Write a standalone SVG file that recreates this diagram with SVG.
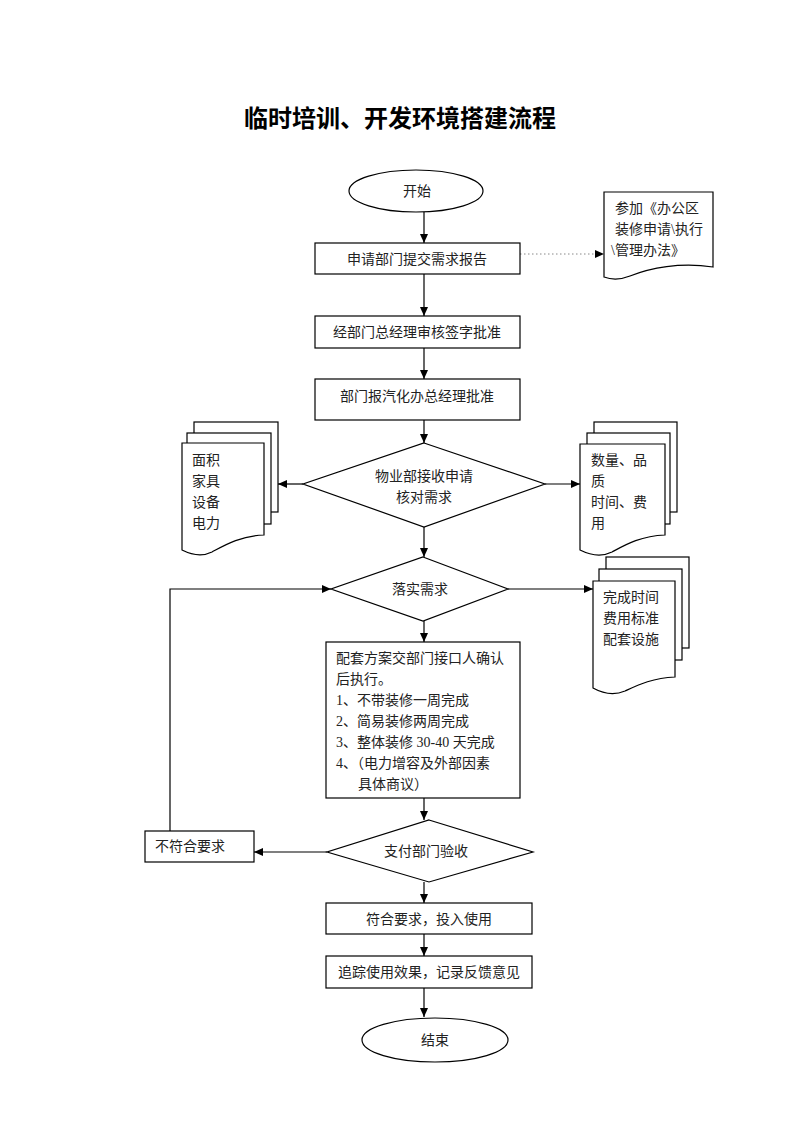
<svg xmlns="http://www.w3.org/2000/svg" width="800" height="1132" viewBox="0 0 800 1132">
<defs>
<marker id="ah" markerWidth="10" markerHeight="8" refX="9" refY="4" orient="auto" markerUnits="userSpaceOnUse">
<path d="M0,0 L9,4 L0,8 Z" fill="#000"/>
</marker>
<style>
.s{fill:#fff;stroke:#000;stroke-width:1.2}
.c{fill:none;stroke:#000;stroke-width:1.2}
.d{fill:none;stroke:#888;stroke-width:1;stroke-dasharray:1.5,2.5}
text{font-family:"Liberation Serif","Noto Sans CJK SC",serif;font-size:14px;fill:#222}
.m{text-anchor:middle;dominant-baseline:central}
.t{font-family:"Noto Sans CJK SC",sans-serif;font-size:24px;font-weight:700;fill:#000;text-anchor:middle}
</style>
</defs>
<rect width="800" height="1132" fill="#fff"/>
<text class="t" x="400" y="127">临时培训、开发环境搭建流程</text>

<g id="connectors">
<line class="c" x1="424" y1="212" x2="424" y2="243" marker-end="url(#ah)"/>
<line class="d" x1="520" y1="254" x2="604" y2="254" marker-end="url(#ah)"/>
<line class="c" x1="424" y1="274" x2="424" y2="316" marker-end="url(#ah)"/>
<line class="c" x1="424" y1="348" x2="424" y2="379" marker-end="url(#ah)"/>
<line class="c" x1="424" y1="420" x2="424" y2="443" marker-end="url(#ah)"/>
<line class="c" x1="303" y1="484" x2="278" y2="484" marker-end="url(#ah)"/>
<line class="c" x1="545" y1="484" x2="580" y2="484" marker-end="url(#ah)"/>
<line class="c" x1="424" y1="527" x2="424" y2="557" marker-end="url(#ah)"/>
<line class="c" x1="508" y1="589" x2="593" y2="589" marker-end="url(#ah)"/>
<line class="c" x1="424" y1="621" x2="424" y2="642" marker-end="url(#ah)"/>
<line class="c" x1="424" y1="798" x2="424" y2="820" marker-end="url(#ah)"/>
<line class="c" x1="327" y1="852" x2="254" y2="852" marker-end="url(#ah)"/>
<polyline class="c" points="170,831 170,589 331,589" marker-end="url(#ah)"/>
<line class="c" x1="424" y1="882" x2="424" y2="903" marker-end="url(#ah)"/>
<line class="c" x1="424" y1="934" x2="424" y2="956" marker-end="url(#ah)"/>
<line class="c" x1="424" y1="988" x2="424" y2="1017" marker-end="url(#ah)"/>
</g>

<g id="start">
<ellipse class="s" cx="416" cy="191" rx="67" ry="21"/>
<text class="m" x="417" y="191">开始</text>
</g>

<g id="n1">
<rect class="s" x="315" y="243" width="205" height="31"/>
<text class="m" x="417" y="259">申请部门提交需求报告</text>
</g>

<g id="doc-ref">
<path class="s" d="M604,192 H713 V267 C680,262 650,268 630,276 C620,280 612,280 604,277 Z"/>
<text x="615" y="213">参加《办公区</text>
<text x="615" y="234">装修申请\执行</text>
<text x="611" y="255">\管理办法》</text>
</g>

<g id="n2">
<rect class="s" x="315" y="316" width="205" height="32"/>
<text class="m" x="417" y="332">经部门总经理审核签字批准</text>
</g>

<g id="n3">
<rect class="s" x="315" y="379" width="205" height="41"/>
<text class="m" x="417" y="396">部门报汽化办总经理批准</text>
</g>

<g id="d1">
<polygon class="s" points="424,443 545,484 424,527 303,484"/>
<text class="m" x="424" y="476">物业部接收申请</text>
<text class="m" x="424" y="497">核对需求</text>
</g>

<g id="doc-left">
<rect class="s" x="194" y="422" width="84" height="90"/>
<rect class="s" x="187" y="433" width="84" height="91"/>
<path class="s" d="M182,443 H264 V535 C240,536 225,545 212,552 C202,557 192,555 182,550 Z"/>
<text x="192" y="465">面积</text>
<text x="192" y="486">家具</text>
<text x="192" y="507">设备</text>
<text x="192" y="528">电力</text>
</g>

<g id="doc-right1">
<rect class="s" x="594" y="422" width="83" height="90"/>
<rect class="s" x="587" y="433" width="83" height="91"/>
<path class="s" d="M580,444 H665 V535 C640,536 625,545 612,552 C602,557 590,555 580,550 Z"/>
<text x="591" y="465">数量、品</text>
<text x="591" y="486">质</text>
<text x="591" y="507">时间、费</text>
<text x="591" y="528">用</text>
</g>

<g id="d2">
<polygon class="s" points="423,557 508,589 423,621 331,589"/>
<text class="m" x="420" y="589">落实需求</text>
</g>

<g id="doc-right2">
<rect class="s" x="606" y="557" width="83" height="91"/>
<rect class="s" x="599" y="569" width="83" height="91"/>
<path class="s" d="M593,581 H675 V677 C652,678 638,685 625,691 C613,696 602,693 593,688 Z"/>
<text x="603" y="602">完成时间</text>
<text x="603" y="623">费用标准</text>
<text x="603" y="644">配套设施</text>
</g>

<g id="n4">
<rect class="s" x="326" y="642" width="194" height="156"/>
<text x="336" y="663">配套方案交部门接口人确认</text>
<text x="336" y="684">后执行。</text>
<text x="336" y="705">1、不带装修一周完成</text>
<text x="336" y="726">2、简易装修两周完成</text>
<text x="336" y="747">3、整体装修 30-40 天完成</text>
<text x="336" y="768">4、（电力增容及外部因素</text>
<text x="358" y="789">具体商议）</text>
</g>

<g id="d3">
<polygon class="s" points="429,820 533,852 429,882 327,852"/>
<text class="m" x="426" y="851">支付部门验收</text>
</g>

<g id="n-fail">
<rect class="s" x="145" y="831" width="109" height="31"/>
<text class="m" x="190" y="846">不符合要求</text>
</g>

<g id="n5">
<rect class="s" x="326" y="903" width="206" height="31"/>
<text class="m" x="429" y="919">符合要求，投入使用</text>
</g>

<g id="n6">
<rect class="s" x="326" y="956" width="206" height="32"/>
<text class="m" x="429" y="972">追踪使用效果，记录反馈意见</text>
</g>

<g id="end">
<ellipse class="s" cx="435" cy="1040" rx="73" ry="22"/>
<text class="m" x="435" y="1040">结束</text>
</g>
</svg>
